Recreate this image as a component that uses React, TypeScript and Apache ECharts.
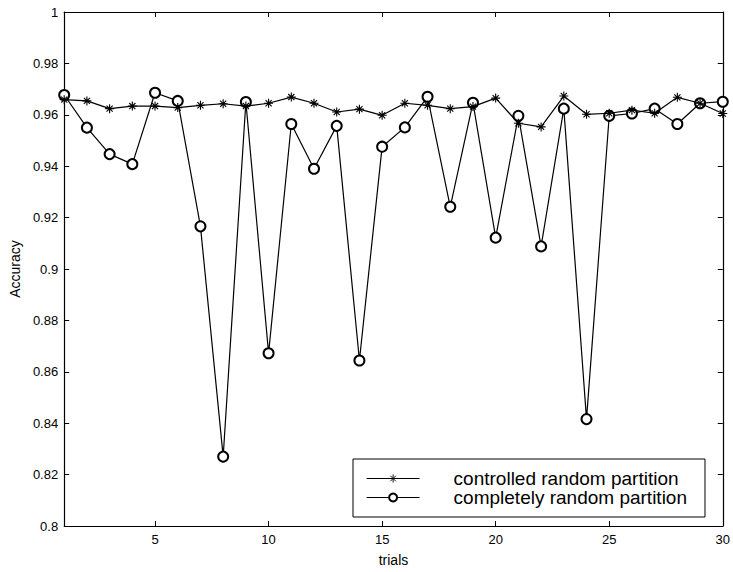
import React, { useEffect, useRef } from "react";
import * as echarts from "echarts";

const trials = [1,2,3,4,5,6,7,8,9,10,11,12,13,14,15,16,17,18,19,20,21,22,23,24,25,26,27,28,29,30];
const controlled = [0.9659,0.9654,0.9624,0.9634,0.9634,0.9628,0.9637,0.9643,0.9634,0.9645,0.9669,0.9645,0.9611,0.9622,0.9598,0.9645,0.9637,0.9624,0.9632,0.9665,0.9567,0.9553,0.9673,0.9602,0.9606,0.9618,0.9606,0.9668,0.9645,0.9605];
const completely = [0.9677,0.955,0.9447,0.9408,0.9686,0.9654,0.9166,0.827,0.965,0.8672,0.9564,0.939,0.9557,0.8644,0.9476,0.9551,0.967,0.9242,0.9647,0.9122,0.9596,0.9088,0.9624,0.8416,0.9596,0.9605,0.9624,0.9564,0.9645,0.9651];
const xTickValues = [5,10,15,20,25,30];
const seriesNames = ["controlled random partition", "completely random partition"];

const STAR = "path://M5,0L5,10M0,5L10,5M1.6,1.6L8.4,8.4M1.6,8.4L8.4,1.6";
const FONT = "Liberation Sans";

export default function App() {
  const ref = useRef<HTMLDivElement>(null);
  useEffect(() => {
    const chart = echarts.init(ref.current!, null, { renderer: "svg" });
    const axisLine = { show: true, lineStyle: { color: "#000", width: 1.2 } };
    chart.setOption({
      animation: false,
      backgroundColor: "#fff",
      textStyle: { fontFamily: FONT, color: "#000" },
      grid: { left: 62, top: 12, right: 10, bottom: 42 },
      legend: {
        orient: "vertical",
        left: 353,
        top: 459,
        padding: [10, 18, 10, 13],
        itemGap: 0,
        itemWidth: 53,
        itemHeight: 10,
        borderColor: "#000",
        borderWidth: 1,
        borderRadius: 0,
        backgroundColor: "#fff",
        itemStyle: { borderWidth: 0.9 },
        lineStyle: { width: 1.2 },
        textStyle: { fontSize: 19, lineHeight: 19, color: "#000", fontFamily: FONT, padding: [0, 0, 0, 29] },
        data: seriesNames,
      },
      xAxis: [
        {
          type: "value",
          min: 1,
          max: 30,
          name: "trials",
          nameLocation: "middle",
          nameGap: 27,
          nameTextStyle: { fontSize: 14, color: "#000", fontFamily: FONT },
          axisLine,
          axisTick: { show: true, inside: true, length: 5, customValues: xTickValues, lineStyle: { color: "#000" } },
          axisLabel: { show: true, customValues: xTickValues, fontSize: 13, color: "#000", margin: 7, fontFamily: FONT },
          splitLine: { show: false },
        },
        {
          type: "value",
          position: "top",
          min: 1,
          max: 30,
          axisLine,
          axisTick: { show: true, inside: true, length: 5, customValues: xTickValues, lineStyle: { color: "#000" } },
          axisLabel: { show: false },
          splitLine: { show: false },
        },
      ],
      yAxis: [
        {
          type: "value",
          min: 0.8,
          max: 1,
          interval: 0.02,
          name: "Accuracy",
          nameLocation: "middle",
          nameGap: 40,
          nameTextStyle: { fontSize: 14, color: "#000", fontFamily: FONT },
          axisLine,
          axisTick: { show: true, inside: true, length: 5, lineStyle: { color: "#000" } },
          axisLabel: { fontSize: 13, color: "#000", margin: 6, fontFamily: FONT },
          splitLine: { show: false },
        },
        {
          type: "value",
          position: "right",
          min: 0.8,
          max: 1,
          interval: 0.02,
          axisLine,
          axisTick: { show: true, inside: true, length: 5, lineStyle: { color: "#000" } },
          axisLabel: { show: false },
          splitLine: { show: false },
        },
      ],
      series: [
        {
          name: seriesNames[0],
          type: "line",
          data: trials.map((t, i) => [t, controlled[i]]),
          symbol: STAR,
          symbolSize: 9,
          lineStyle: { color: "#000", width: 1.2 },
          itemStyle: { color: "#000", borderColor: "#000", borderWidth: 1.1 },
          z: 3,
        },
        {
          name: seriesNames[1],
          type: "line",
          data: trials.map((t, i) => [t, completely[i]]),
          symbol: "emptyCircle",
          symbolSize: 10,
          showAllSymbol: true,
          lineStyle: { color: "#000", width: 1.2 },
          itemStyle: { color: "#000", borderColor: "#000", borderWidth: 1.3 },
          z: 2,
        },
      ],
    });
    return () => chart.dispose();
  }, []);
  return <div ref={ref} style={{ width: 733, height: 572, position: "absolute", left: 0, top: 0 }} />;
}
